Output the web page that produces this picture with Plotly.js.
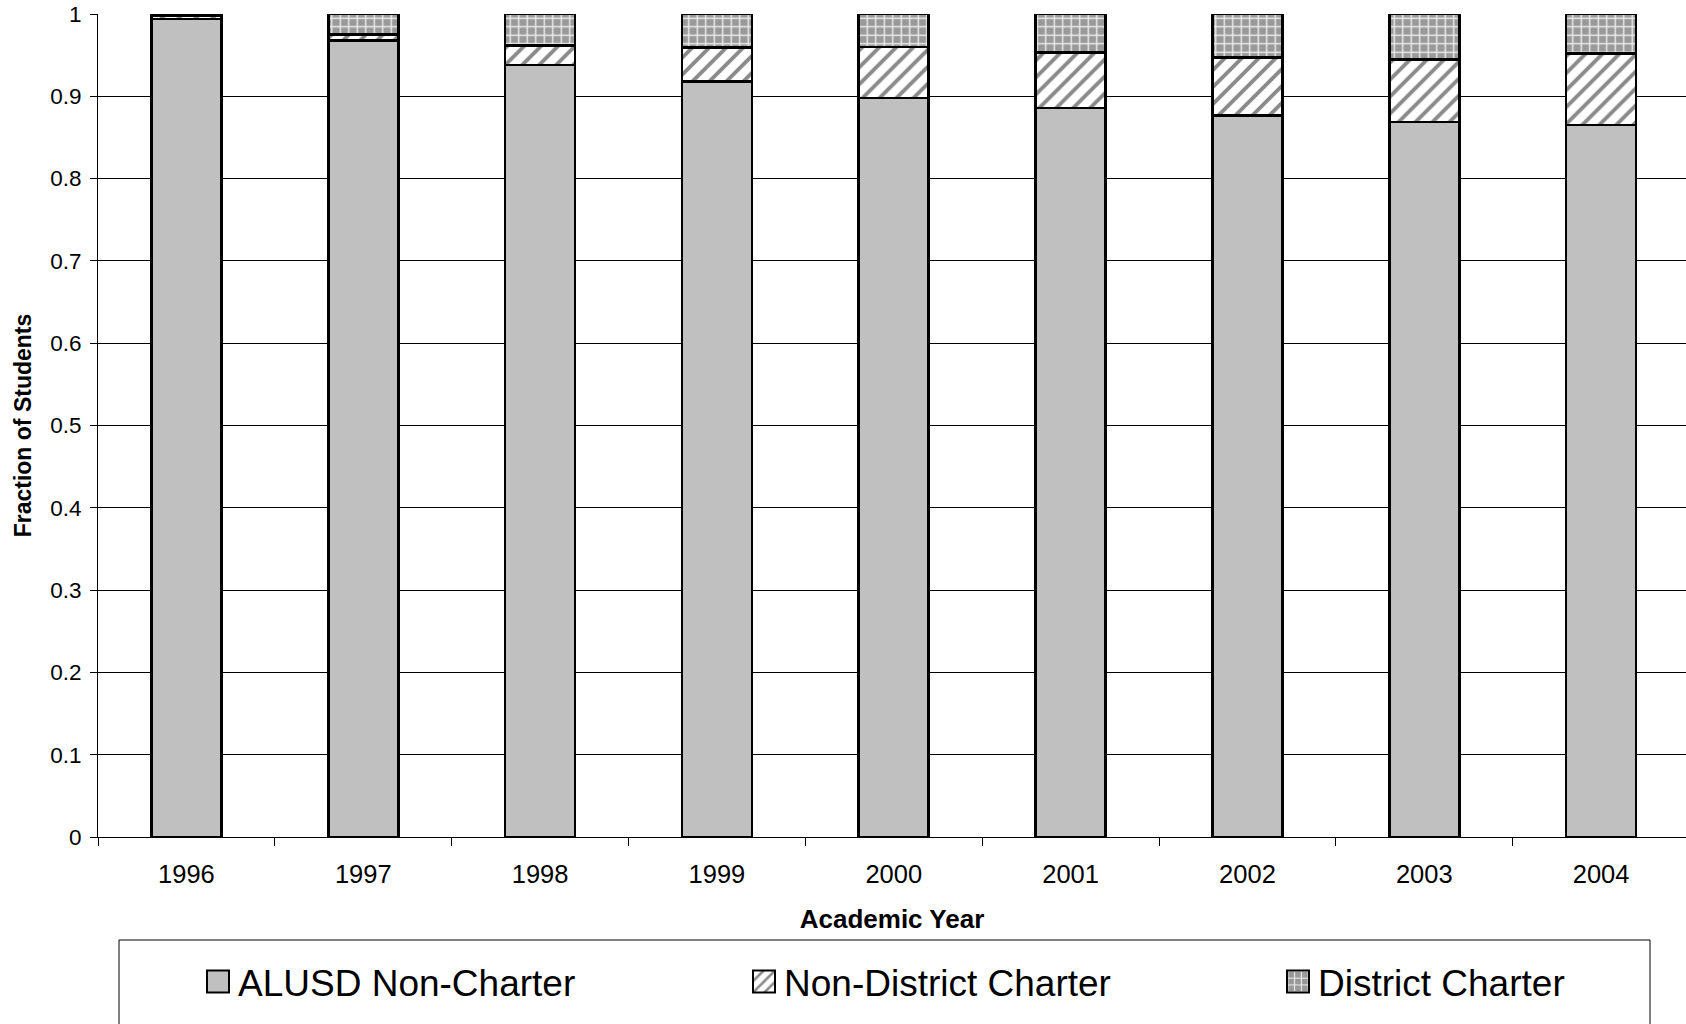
<!DOCTYPE html>
<html>
<head>
<meta charset="utf-8">
<script src="https://cdn.plot.ly/plotly-3.0.1.min.js"></script>
<style>
  html, body { margin: 0; padding: 0; overflow: hidden; background: #ffffff; }
  #chart { width: 1686px; height: 1024px; }
</style>
</head>
<body>
<div id="chart"></div>
<script>
// Academic years on the category axis
const years = ['1996', '1997', '1998', '1999', '2000', '2001', '2002', '2003', '2004'];

// Share of students by school type (each year sums to 1)
const alusdNonCharter    = [0.994, 0.968, 0.938, 0.918, 0.898, 0.886, 0.877, 0.869, 0.865];
const nonDistrictCharter = [0.004, 0.007, 0.024, 0.041, 0.062, 0.067, 0.070, 0.076, 0.087];
const districtCharter    = [0.002, 0.025, 0.038, 0.041, 0.040, 0.047, 0.053, 0.055, 0.048];

const seriesNames = ['ALUSD Non-Charter', 'Non-District Charter', 'District Charter'];
const yTickVals = [0, 0.1, 0.2, 0.3, 0.4, 0.5, 0.6, 0.7, 0.8, 0.9, 1];

// Page geometry (pixels)
const W = 1686, H = 1024;
const M = { l: 98, r: 0, t: 14, b: 187, autoexpand: false };
const plotW = W - M.l - M.r;
const plotH = H - M.t - M.b;
const px = x => (x - M.l) / plotW;          // page x -> paper x
const py = y => (H - M.b - y) / plotH;      // page y -> paper y

const FONT = 'Liberation Sans, Arial, Helvetica, sans-serif';
const outline = { color: '#000000', width: 2.6 };

const traces = [
  {
    type: 'bar', name: seriesNames[0], x: years, y: alusdNonCharter,
    legend: 'legend',
    marker: { color: '#c0c0c0', line: outline }
  },
  {
    type: 'bar', name: seriesNames[1], x: years, y: nonDistrictCharter,
    legend: 'legend2',
    marker: {
      color: '#ffffff', line: outline,
      pattern: { shape: '/', fgcolor: '#8a8a8a', bgcolor: '#ffffff', size: 12, solidity: 0.32 }
    }
  },
  {
    type: 'bar', name: seriesNames[2], x: years, y: districtCharter,
    legend: 'legend3',
    marker: {
      color: '#999999', line: outline,
      pattern: { shape: '+', fgcolor: '#ededed', bgcolor: '#999999', size: 8.5, solidity: 0.3 }
    }
  }
];

// One legend per series, spaced evenly inside the framed legend box
const legendBase = {
  orientation: 'h',
  xanchor: 'left',
  y: py(982), yanchor: 'middle',
  bgcolor: 'rgba(0,0,0,0)', borderwidth: 0,
  font: { family: FONT, size: 37, color: '#000000' }
};

const layout = {
  width: W, height: H,
  margin: M,
  paper_bgcolor: '#ffffff', plot_bgcolor: '#ffffff',
  font: { family: FONT, color: '#000000', size: 22 },
  barmode: 'stack',
  bargap: 0.604,
  showlegend: true,
  xaxis: {
    type: 'category',
    range: [-0.5, 8.48],
    showline: true, linecolor: '#000000', linewidth: 1,
    showgrid: false, zeroline: false,
    ticks: 'outside', tickson: 'boundaries', ticklen: 8, tickcolor: '#000000', tickwidth: 1,
    ticklabelstandoff: 14,
    tickfont: { family: FONT, size: 25.5, color: '#000000' },
    title: { text: 'Academic Year', font: { family: FONT, size: 26, color: '#000000', weight: 'bold' }, standoff: 23 },
    automargin: false, fixedrange: true
  },
  yaxis: {
    range: [0, 1],
    tickvals: yTickVals,
    showline: true, linecolor: '#000000', linewidth: 1,
    showgrid: true, gridcolor: '#000000', gridwidth: 1,
    zeroline: false,
    ticks: 'outside', ticklen: 7, tickcolor: '#000000', tickwidth: 1,
    ticklabelstandoff: 4,
    tickfont: { family: FONT, size: 22.5, color: '#000000' },
    title: { text: 'Fraction of Students', font: { family: FONT, size: 23, color: '#000000', weight: 'bold' }, standoff: 12 },
    automargin: false, fixedrange: true
  },
  legend:  Object.assign({}, legendBase, { x: px(198) }),
  legend2: Object.assign({}, legendBase, { x: px(744) }),
  legend3: Object.assign({}, legendBase, { x: px(1278) }),
  shapes: [
    {
      type: 'rect', xref: 'paper', yref: 'paper',
      x0: px(119), x1: px(1650), y0: py(940), y1: py(1040),
      line: { color: '#000000', width: 1 }, fillcolor: 'rgba(0,0,0,0)', layer: 'above'
    }
  ]
};

Plotly.newPlot('chart', traces, layout, { staticPlot: true, displayModeBar: false }).then(gd => {
  // Larger legend swatches to suit the large legend text
  gd.querySelectorAll('.legendpoints path').forEach(p => {
    p.setAttribute('d', 'M11,11H-11V-11H11Z');
    p.style.strokeWidth = '2px';
  });
});
</script>
</body>
</html>
